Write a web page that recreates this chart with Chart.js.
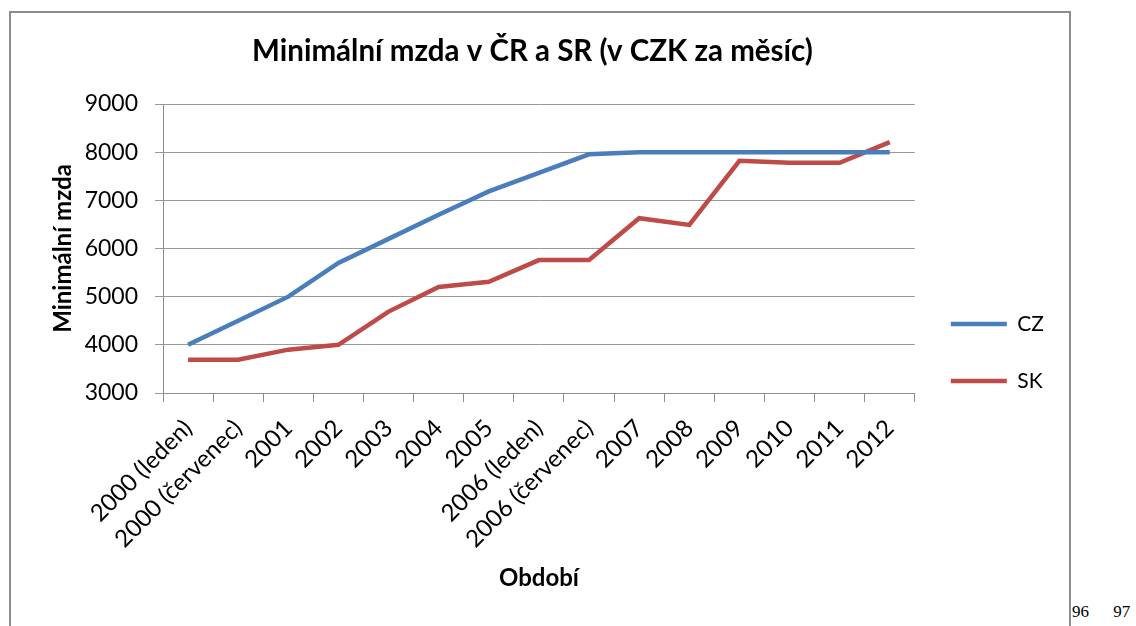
<!DOCTYPE html>
<html>
<head>
<meta charset="utf-8">
<script src="https://cdn.jsdelivr.net/npm/chart.js@4/dist/chart.umd.min.js"></script>
<style>
  body { margin: 0; background: #fff; }
  #box { position: absolute; left: 9px; top: 11px; width: 1058px; height: 640px; border: 2px solid #8c8c8c; border-bottom: none; }
  #wrap { position: absolute; left: 11px; top: 13px; width: 1057px; height: 613px; }
  #pages { position: absolute; left: 1072px; top: 602px; font-family: "Liberation Serif", serif; font-size: 17px; color: #000; word-spacing: 20px; }
</style>
</head>
<body>
<div id="box"></div>
<div id="wrap"><canvas id="mzdaChart" width="1057" height="613"></canvas></div>
<div id="pages">96 97</div>
<script>
const categories = ["2000 (leden)", "2000 (červenec)", "2001", "2002", "2003", "2004", "2005",
  "2006 (leden)", "2006 (červenec)", "2007", "2008", "2009", "2010", "2011", "2012"];
const czValues = [4000, 4500, 5000, 5700, 6200, 6700, 7185, 7570, 7955, 8000, 8000, 8000, 8000, 8000, 8000];
const skValues = [3690, 3690, 3900, 4000, 4690, 5200, 5310, 5760, 5760, 6630, 6490, 7820, 7780, 7780, 8210];
const yMin = 3000;
const yMax = 9000;
const yStep = 1000;

const fontFamily = "Lato, 'Open Sans', sans-serif";
Chart.defaults.font.family = fontFamily;
Chart.defaults.color = "#000";

var ctx = document.getElementById("mzdaChart");
var mzdaChart = new Chart(ctx, {
  type: "line",
  data: {
    labels: categories,
    datasets: [
      {
        label: "CZ",
        data: czValues,
        borderColor: "#4a7ebb",
        backgroundColor: "#4a7ebb",
        borderWidth: 4.5,
        pointRadius: 0,
        tension: 0,
      },
      {
        label: "SK",
        data: skValues,
        borderColor: "#be4b48",
        backgroundColor: "#be4b48",
        borderWidth: 4.5,
        pointRadius: 0,
        tension: 0,
      },
    ],
  },
  options: {
    responsive: false,
    animation: false,
    layout: { padding: { left: 0, right: 14, top: 0, bottom: 0 } },
    plugins: {
      title: {
        display: true,
        text: "Minimální mzda v ČR a SR (v CZK za měsíc)",
        font: { size: 29.5, weight: "bold" },
        color: "#000",
        padding: { top: 21, bottom: 34.6 },
      },
      legend: {
        position: "right",
        // empty title only pushes the entries down a bit
        title: { display: true, text: "", font: { size: 10, lineHeight: 1 }, padding: { top: 56, bottom: 0 } },
        labels: {
          usePointStyle: true,
          pointStyle: "line",
          pointStyleWidth: 56,
          padding: 36,
          font: { size: 21 },
          color: "#000",
        },
      },
      tooltip: { enabled: false },
    },
    scales: {
      x: {
        offset: true,
        grid: { display: true, drawOnChartArea: false, drawTicks: true, tickLength: 9, color: "#8c8c8c", offset: true },
        border: { display: true, color: "#8c8c8c" },
        ticks: { minRotation: 45, maxRotation: 45, autoSkip: false, padding: 12, font: { size: 24 } },
        title: { display: true, text: "Období", font: { size: 24, weight: "bold" }, padding: { top: 0, bottom: 33 } },
        afterFit: function (scale) { scale.height = 233; },
      },
      y: {
        min: yMin,
        max: yMax,
        grid: { color: "#999", tickLength: 8 },
        border: { display: true, color: "#8c8c8c" },
        ticks: {
          stepSize: yStep,
          padding: 17,
          font: { size: 23 },
          callback: function (value) { return String(value); },
        },
        title: { display: true, text: "Minimální mzda", font: { size: 24, weight: "bold" }, padding: { top: 38, bottom: 0 } },
        afterFit: function (scale) { scale.width = 152; },
      },
    },
  },
});
</script>
</body>
</html>
